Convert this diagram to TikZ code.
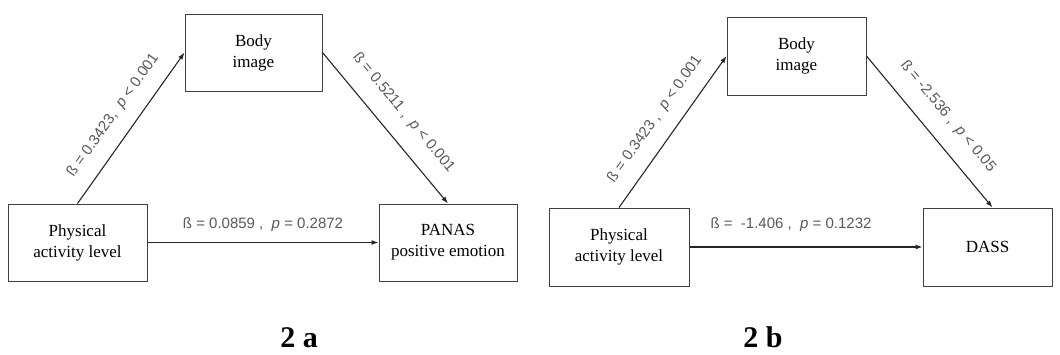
\documentclass[tikz,border=0pt]{standalone}
\usepackage{fontspec}
\setmainfont{Liberation Serif}
\newfontfamily\labelfont{Liberation Sans}
\usepackage{tikz}
\usetikzlibrary{
    arrows.meta,
    positioning
}
\definecolor{labelgray}{HTML}{595959}
\definecolor{boxgray}{HTML}{404040}

\begin{document}
\begin{tikzpicture}[x=1pt, y=-1pt,
    box/.style={draw=boxgray, line width=1pt, align=center, inner sep=0pt,
        font=\fontsize{17}{21}\selectfont},
    lbl/.style={text=labelgray, font=\labelfont\fontsize{15}{18}\selectfont},
    conn/.style={->, line width=1.1pt, draw=black!85},
    caption/.style={inner sep=0pt, anchor=base, font=\bfseries\fontsize{30}{30}\selectfont},
    >={Latex[length=7pt, width=5pt]}]
                        \useasboundingbox (0, 0) rectangle (1060, 354);

                        % 2 a
                        \node[box, minimum width=137pt, minimum height=77pt] (bodyA) at (253.5, 52.5) {Body\\image};
                        \node[box, minimum width=139pt, minimum height=77pt] (activityA) at (77.5, 242.5) {Physical\\activity level};
                        \node[box, minimum width=138pt, minimum height=77pt] (panas) at (448, 242.5) {PANAS\\positive emotion};

                        \draw
                        (activityA.north) edge[conn] node[lbl, sloped, above=11pt] {ß = 0.3423,\ \ \textit{p} < 0.001} (bodyA.west)
                        (bodyA.east) edge[conn] node[lbl, sloped, above=13pt] {ß = 0.5211 ,\ \ \textit{p} < 0.001} (panas.north)
                        (activityA.east) edge[conn] node[lbl, above=7.5pt] {ß = 0.0859 ,\ \ \textit{p} = 0.2872} (panas.west);

                        \node[caption] (captionA) at (299, 347) {2 a};

                        % 2 b
                        \node[box, minimum width=139pt, minimum height=78pt] (bodyB) at (796.5, 56) {Body\\image};
                        \node[box, minimum width=140pt, minimum height=78pt] (activityB) at (619, 247) {Physical\\activity level};
                        \node[box, minimum width=129pt, minimum height=78pt] (dass) at (987.5, 247) {DASS};

                        \draw
                        (activityB.north) edge[conn] node[lbl, sloped, above=11pt] {ß = 0.3423 ,\ \ \textit{p} < 0.001} (bodyB.west)
                        (bodyB.east) edge[conn] node[lbl, sloped, above=13pt] {ß = -2.536 ,\ \ \textit{p} < 0.05} ([xshift=5pt]dass.north)
                        (activityB.east) edge[conn] node[lbl, above=11.5pt, xshift=-15pt] {ß =\ \ -1.406 ,\ \ \textit{p} = 0.1232} (dass.west);

                        \node[caption] (captionB) at (763, 347) {2 b};
                    \end{tikzpicture}
\end{document}
